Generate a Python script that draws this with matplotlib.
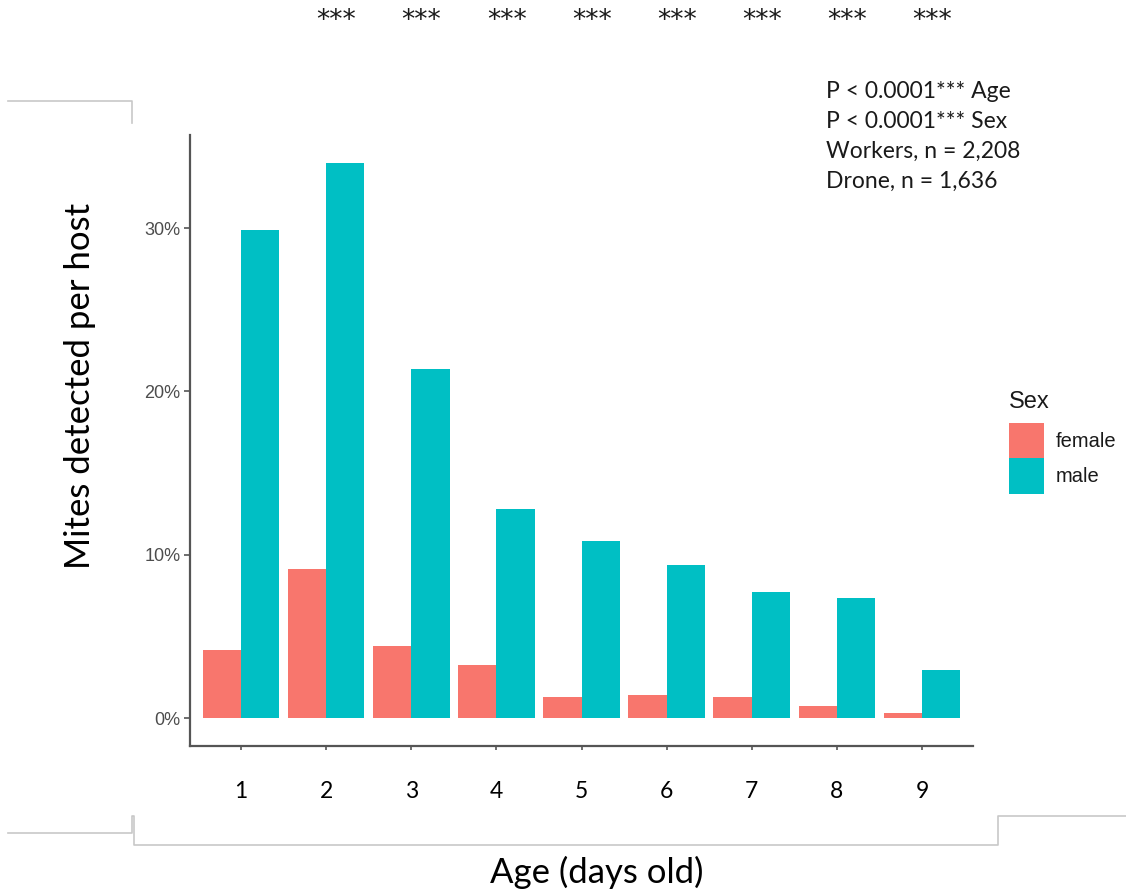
import matplotlib
matplotlib.use("Agg")
import matplotlib.pyplot as plt
import matplotlib.transforms as mtransforms
from matplotlib.lines import Line2D
from matplotlib.ticker import FuncFormatter
import numpy as np

# Data: proportion of hosts with mites detected, by age and sex
ages = ["1", "2", "3", "4", "5", "6", "7", "8", "9"]
female = [4.2, 9.15, 4.45, 3.23, 1.28, 1.4, 1.28, 0.73, 0.3]
male = [29.9, 34.0, 21.4, 12.8, 10.85, 9.4, 7.74, 7.38, 2.93]
y_ticks = [0, 10, 20, 30]
star_groups = ["2", "3", "4", "5", "6", "7", "8", "9"]
stats_lines = ["P < 0.0001*** Age", "P < 0.0001*** Sex",
               "Workers, n = 2,208", "Drone, n = 1,636"]

W, H = 1126, 896
fig = plt.figure(figsize=(W / 100, H / 100), dpi=100)
fig.patch.set_facecolor("white")


def fx(x):
    return x / W


def fy(y):
    return 1 - y / H


ax_l, ax_r, ax_t, ax_b = 190, 973, 135, 746
ax = fig.add_axes([fx(ax_l), fy(ax_b), fx(ax_r) - fx(ax_l), fy(ax_t) - fy(ax_b)])

pos = np.arange(1, len(ages) + 1)
bw = 0.45
b_f = ax.bar(pos - bw / 2, female, width=bw, color="#F8766D", label="female")
b_m = ax.bar(pos + bw / 2, male, width=bw, color="#00BFC4", label="male")

ax.set_xlim(0.4, 9.6)
ax.set_ylim(-1.7, 35.7)
ax.set_yticks(y_ticks)
ax.yaxis.set_major_formatter(FuncFormatter(lambda v, p: f"{v:.0f}%"))
ax.set_xticks(pos)
ax.set_xticklabels(ages, fontfamily="Lato", fontsize=16.5, color="black")

for side in ["top", "right"]:
    ax.spines[side].set_visible(False)
for side in ["left", "bottom"]:
    ax.spines[side].set_color("#555555")
    ax.spines[side].set_linewidth(1.6)

ax.tick_params(axis="y", length=4, width=1.2, color="#555555",
               labelsize=13, labelcolor="#4D4D4D", pad=3)
ax.tick_params(axis="x", length=3, width=1.2, color="#555555", pad=22)
for lbl in ax.get_yticklabels():
    lbl.set_fontfamily("Liberation Sans")

ax.set_ylabel("Mites detected per host", fontfamily="Lato", fontsize=25,
              color="black")
ax.yaxis.set_label_coords((96 - ax_l) / (ax_r - ax_l),
                          (ax_b - 386) / (ax_b - ax_t))
ax.set_xlabel("Age (days old)", fontfamily="Lato", fontsize=25,
              color="black")
ax.xaxis.set_label_coords((597 - ax_l) / (ax_r - ax_l),
                          -(856 - ax_b) / (ax_b - ax_t))

# Significance stars above each age group
star_tf = mtransforms.blended_transform_factory(ax.transData, fig.transFigure)
for g in star_groups:
    xg = ages.index(g) + 1 + 0.12
    ax.text(xg, fy(28), "***", transform=star_tf, ha="center",
            va="baseline", fontsize=19, fontfamily="DejaVu Sans",
            color="#1a1a1a", clip_on=False)

# Statistical summary block
for i, line in enumerate(stats_lines):
    fig.text(fx(826), fy(92 + i * 29.7), line, fontfamily="Lato",
             fontsize=16.5, ha="left", va="center", color="#1a1a1a")

# Legend
leg = fig.legend(handles=[b_f, b_m], labels=["female", "male"],
                 title="Sex", loc="upper left",
                 bbox_to_anchor=(fx(1009), fy(391)), frameon=False,
                 prop={"family": "Liberation Sans", "size": 14.5},
                 title_fontproperties={"family": "Liberation Sans",
                                       "size": 17},
                 handlelength=1.75, handleheight=2.34, labelspacing=0.0,
                 handletextpad=0.55, borderaxespad=0, borderpad=0)
leg._legend_box.align = "left"
leg._legend_box.sep = 7
for txt in leg.get_texts():
    txt.set_color("#1a1a1a")
leg.get_title().set_color("#1a1a1a")

# Light frame segments around the panel
gray = "#C8C8C8"
segs = [
    [(8, 101), (132, 101), (132, 123)],
    [(8, 833), (132, 833), (132, 816), (134, 816), (134, 845), (998, 845),
     (998, 816), (1126, 816)],
]
for seg in segs:
    xs = [fx(p[0]) for p in seg]
    ys = [fy(p[1]) for p in seg]
    fig.add_artist(Line2D(xs, ys, color=gray, lw=1.2,
                          transform=fig.transFigure))

fig.savefig("out.png", dpi=100, facecolor="white")
